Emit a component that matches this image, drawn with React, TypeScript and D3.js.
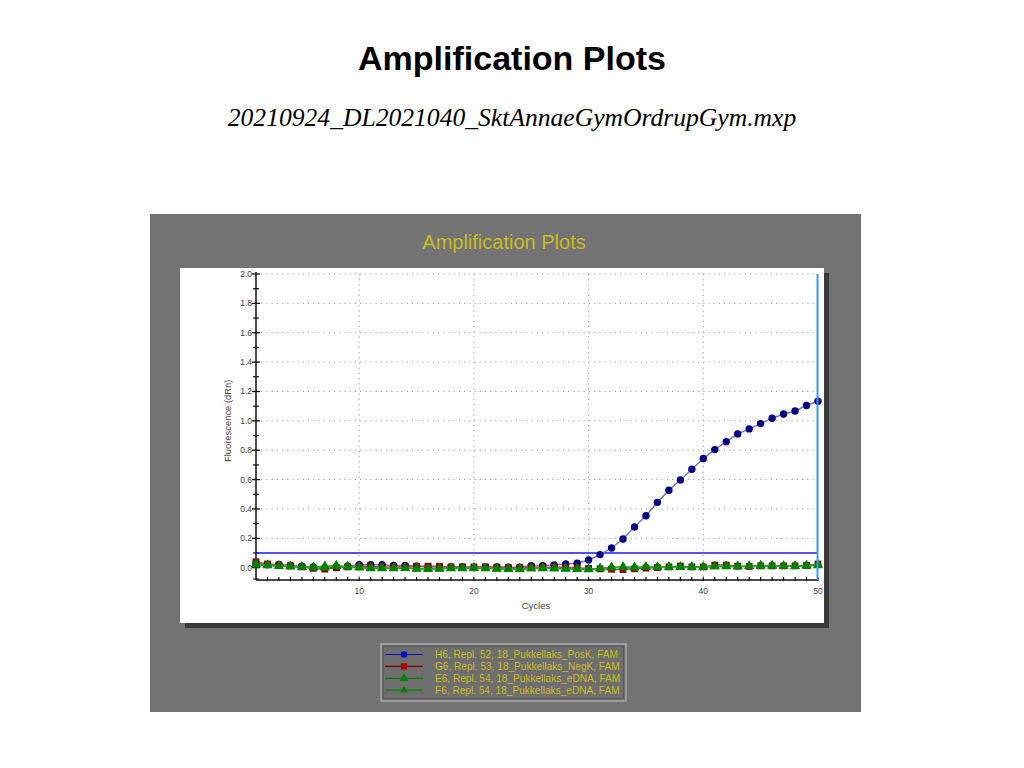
import React from 'react';
import * as d3 from 'd3';

const cycles = d3.range(1, 51);

// Fluorescence (dRn) per cycle
const h6PosK = [
  0.03, 0.02, 0.022, 0.015, 0.01, 0.005, 0.0, 0.0, 0.01, 0.02,
  0.02, 0.02, 0.015, 0.015, 0.01, 0.005, 0.005, 0.005, 0.005, 0.0,
  0.005, 0.005, 0.003, 0.003, 0.014, 0.014, 0.018, 0.025, 0.03, 0.052,
  0.089, 0.134, 0.195, 0.277, 0.354, 0.445, 0.527, 0.597, 0.67, 0.743,
  0.804, 0.858, 0.911, 0.945, 0.981, 1.018, 1.047, 1.067, 1.104, 1.133,
];
const g6NegK = [
  0.04, 0.025, 0.018, 0.012, 0.005, -0.005, -0.01, 0.0, 0.005, 0.01,
  0.01, 0.005, 0.005, 0.005, 0.01, 0.01, 0.01, 0.005, 0.005, 0.005,
  0.005, 0.003, 0.0, 0.0, 0.003, 0.003, 0.003, 0.003, 0.0, -0.005,
  -0.008, -0.011, -0.013, -0.008, -0.003, 0.0, 0.005, 0.011, 0.005, 0.005,
  0.018, 0.018, 0.01, 0.008, 0.012, 0.012, 0.012, 0.012, 0.015, 0.025,
];
const e6eDNA = [
  0.02, 0.015, 0.01, 0.008, 0.003, 0.0, 0.0, 0.01, 0.008, 0.003,
  0.0, -0.003, -0.003, -0.003, -0.005, -0.008, -0.005, -0.003, -0.003, 0.0,
  -0.003, -0.005, -0.01, -0.01, -0.005, -0.005, -0.005, -0.008, -0.01, -0.01,
  -0.005, 0.0, 0.003, 0.0, 0.003, 0.003, 0.003, 0.005, 0.005, 0.005,
  0.008, 0.008, 0.008, 0.01, 0.012, 0.015, 0.012, 0.012, 0.015, 0.02,
];
const f6eDNA = [
  0.025, 0.018, 0.012, 0.008, 0.005, 0.003, 0.01, 0.015, 0.005, 0.0,
  -0.005, -0.005, -0.005, -0.003, -0.008, -0.01, -0.008, -0.005, -0.005, -0.003,
  -0.005, -0.008, -0.01, -0.008, -0.005, -0.003, -0.005, -0.005, -0.008, -0.012,
  -0.005, 0.003, 0.005, 0.003, 0.005, 0.003, 0.005, 0.005, 0.003, 0.003,
  0.008, 0.01, 0.008, 0.01, 0.015, 0.012, 0.012, 0.01, 0.012, 0.015,
];

const seriesNames = [
  'H6, Repl. 52, 18_Pukkellaks_PosK, FAM',
  'G6, Repl. 53, 18_Pukkellaks_NegK, FAM',
  'E6, Repl. 54, 18_Pukkellaks_eDNA, FAM',
  'F6, Repl. 54, 18_Pukkellaks_eDNA, FAM',
];

const threshold = 0.1;
const yTicks = d3.range(0, 2.01, 0.2);
const yMinorTicks = d3.range(0.1, 2.0, 0.2);
const xLabelTicks = [10, 20, 30, 40, 50];

const series = [
  { name: seriesNames[0], values: h6PosK, line: '#1010c0', mark: '#000080', lineFaint: '#7878c0', shape: 'circle' },
  { name: seriesNames[1], values: g6NegK, line: '#800000', mark: '#8b0000', lineFaint: '#a05050', shape: 'square' },
  { name: seriesNames[2], values: e6eDNA, line: '#008000', mark: '#008000', lineFaint: '#30a030', shape: 'triangle' },
  { name: seriesNames[3], values: f6eDNA, line: '#009000', mark: '#008000', lineFaint: '#30a030', shape: 'triangle' },
];

const tickFont = 'Arial, "Liberation Sans", sans-serif';

function Marker({ shape, x, y, r, fill }: { shape: string; x: number; y: number; r: number; fill: string }) {
  if (shape === 'circle') return <circle cx={x} cy={y} r={r} fill={fill} />;
  if (shape === 'square') return <rect x={x - r} y={y - r} width={r * 2} height={r * 2} fill={fill} />;
  const p = d3.symbol(d3.symbolTriangle, r * r * 3.6)() as string;
  return <path d={p} transform={`translate(${x},${y})`} fill={fill} />;
}

export default function App() {
  const x = d3.scaleLinear().domain([1, 50]).range([256, 818]);
  const y = d3.scaleLinear().domain([-0.084, 2.0]).range([580, 274]);
  const line = d3.line<number>().x((_, i) => x(cycles[i])).y(d => y(d));

  return (
    <div style={{ position: 'absolute', left: 0, top: 0 }}>
      <svg width={1024} height={768} style={{ display: 'block' }}>
        <rect width={1024} height={768} fill="#fff" />
        <text x={512} y={70} textAnchor="middle" fontFamily={tickFont} fontWeight="bold" fontSize={34} fill="#000">
          Amplification Plots
        </text>
        <text x={512} y={126} textAnchor="middle" fontFamily='"Liberation Serif", "Times New Roman", serif' fontStyle="italic" fontSize={25.6} fill="#000">
          20210924_DL2021040_SktAnnaeGymOrdrupGym.mxp
        </text>

        {/* gray panel */}
        <rect x={150} y={214} width={711} height={498} fill="#737373" />
        <text x={504} y={249} textAnchor="middle" fontFamily={tickFont} fontSize={20} fill="#c8bc1e">
          Amplification Plots
        </text>

        {/* plot panel with shadow */}
        <rect x={185} y={273} width={644} height={355} fill="#3a3a3a" />
        <rect x={180} y={268} width={644} height={355} fill="#fff" />

        {/* grid */}
        <g stroke="#9a9a9a" strokeWidth={1} strokeDasharray="1.2 4">
          {yTicks.slice(1).map(t => (
            <line key={'gy' + t} x1={x(1)} x2={x(50)} y1={y(t)} y2={y(t)} />
          ))}
          {xLabelTicks.slice(0, 4).map(t => (
            <line key={'gx' + t} x1={x(t)} x2={x(t)} y1={y(2.0)} y2={y(-0.084)} />
          ))}
        </g>

        {/* axes */}
        <line x1={x(1)} x2={x(1)} y1={y(2.0) - 2} y2={y(-0.084)} stroke="#111" strokeWidth={1.5} />
        <line x1={x(1)} x2={x(50)} y1={y(-0.084)} y2={y(-0.084)} stroke="#111" strokeWidth={1.5} />
        {yTicks.map(t => (
          <g key={'yt' + t}>
            <line x1={x(1) - 4} x2={x(1) + 4} y1={y(t)} y2={y(t)} stroke="#111" strokeWidth={1.3} />
            <text x={x(1) - 4} y={y(t) + 3} textAnchor="end" fontFamily={tickFont} fontSize={8.5} fill="#444">
              {d3.format('.1f')(t)}
            </text>
          </g>
        ))}
        {yMinorTicks.map(t => (
          <line key={'ym' + t} x1={x(1) - 3} x2={x(1) + 3} y1={y(t)} y2={y(t)} stroke="#111" strokeWidth={1.2} />
        ))}
        <line x1={x(1) - 3} x2={x(1) + 3} y1={y(-0.084) - 1} y2={y(-0.084) - 1} stroke="#111" strokeWidth={1} />
        {cycles.slice(1).map(c => (
          <line key={'xt' + c} x1={x(c)} x2={x(c)} y1={y(-0.084) - 3} y2={y(-0.084) + 1} stroke="#111" strokeWidth={1.2} />
        ))}
        {xLabelTicks.map(t => (
          <text key={'xl' + t} x={x(t)} y={y(-0.084) + 14} textAnchor="middle" fontFamily={tickFont} fontSize={8.5} fill="#444">
            {t}
          </text>
        ))}
        <text x={536} y={609} textAnchor="middle" fontFamily={tickFont} fontSize={9.5} fill="#444">Cycles</text>
        <text
          transform={`translate(231,${y(1.0)}) rotate(-90)`}
          textAnchor="middle"
          fontFamily={tickFont}
          fontSize={9.4}
          fill="#444"
        >
          Fluorescence (dRn)
        </text>

        {/* threshold */}
        <line x1={x(1)} x2={x(50)} y1={y(threshold)} y2={y(threshold)} stroke="#1a1ae0" strokeWidth={1.6} />

        {/* series, green drawn last so it sits on top */}
        {series.map(s => (
          <g key={s.name}>
            <path d={line(s.values) as string} fill="none" stroke={s.lineFaint} strokeWidth={1.5} />
            {s.values.map((v, i) => (
              <Marker key={i} shape={s.shape} x={x(cycles[i])} y={y(v)} r={s.shape === 'circle' ? 3.7 : 3.4} fill={s.mark} />
            ))}
          </g>
        ))}

        <line x1={x(50) - 0.5} x2={x(50) - 0.5} y1={y(2.0)} y2={y(-0.084)} stroke="#3a9bf0" strokeWidth={2} />

        {/* legend */}
        <rect x={381} y={644} width={245} height={57} fill="#6e6e6e" stroke="#a8a8a8" strokeWidth={1.5} />
        <rect x={383.5} y={646.5} width={240} height={52} fill="none" stroke="#555" strokeWidth={0.8} />
        {series.map((s, i) => {
          const ly = 654.5 + i * 11.9;
          return (
            <g key={'lg' + i}>
              <line x1={385} x2={423} y1={ly} y2={ly} stroke={s.line} strokeWidth={1.2} />
              <Marker shape={s.shape} x={404} y={ly} r={s.shape === 'circle' ? 3.3 : i === 3 ? 2.6 : 3.1} fill={s.shape === 'circle' ? '#1010c0' : s.shape === 'square' ? '#b00000' : s.mark} />
              <text x={435} y={ly + 3.4} fontFamily={tickFont} fontSize={10.1} fill="#c8bc1e">
                {s.name}
              </text>
            </g>
          );
        })}
      </svg>
    </div>
  );
}
